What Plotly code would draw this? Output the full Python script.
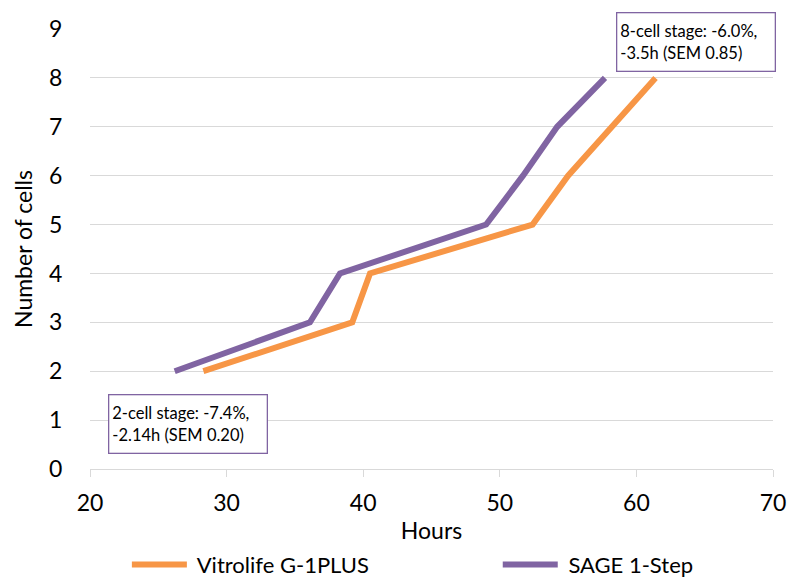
import plotly.graph_objects as go

cells = [2, 3, 4, 5, 6, 7, 8]
vitrolife_hours = [28.3, 39.2, 40.5, 52.4, 55.0, 58.2, 61.4]
sage_hours = [26.2, 36.1, 38.3, 49.0, 51.7, 54.2, 57.7]

ann1 = "2-cell stage: -7.4%,<br>-2.14h (SEM 0.20)"
ann2 = "8-cell stage: -6.0%,<br>-3.5h (SEM 0.85)"

font = "Lato, Open Sans, sans-serif"
pad = "\u00a0"

fig = go.Figure()
fig.add_trace(go.Scatter(x=vitrolife_hours, y=cells, mode="lines", name=pad + "Vitrolife G-1PLUS",
                         line=dict(color="#F79646", width=6), legend="legend"))
fig.add_trace(go.Scatter(x=sage_hours, y=cells, mode="lines", name=pad + "SAGE 1-Step",
                         line=dict(color="#8064A2", width=6), legend="legend2"))

for txt, x, y in [(ann1, 27.2, 0.93), (ann2, 64.35, 8.73)]:
    fig.add_annotation(x=x, y=y, xref="x", yref="y", text=txt, showarrow=False,
                       align="left", valign="middle", width=151, height=51,
                       bgcolor="white", bordercolor="#8064A2", borderwidth=1.3,
                       borderpad=3, font=dict(family=font, size=16.5, color="black"))

leg = dict(orientation="h", xanchor="left", y=-0.17, yanchor="top",
           font=dict(size=22), itemwidth=55, tracegroupgap=0, bgcolor="rgba(0,0,0,0)")

fig.update_layout(
    width=788, height=585,
    margin=dict(l=90, r=15, t=29, b=116, autoexpand=False),
    paper_bgcolor="white", plot_bgcolor="white",
    font=dict(family=font, size=23, color="black"),
    showlegend=True,
    legend=dict(leg, x=0.054),
    legend2=dict(leg, x=0.597),
    xaxis=dict(range=[20, 70], dtick=10, showgrid=False, showline=True, linecolor="#d9d9d9",
               linewidth=1.3, ticks="outside", ticklen=7, tickcolor="#d9d9d9",
               ticklabelstandoff=6, automargin=False,
               tickfont=dict(size=23), title=dict(text="Hours", font=dict(size=23), standoff=8),
               zeroline=False),
    yaxis=dict(range=[0, 9], dtick=1, showgrid=True, gridcolor="#d9d9d9", gridwidth=1.3,
               zeroline=False, showline=False, tickfont=dict(size=23), ticklen=22, ticks="outside",
               tickcolor="rgba(0,0,0,0)", automargin=False,
               title=dict(text="Number of cells", font=dict(size=23), standoff=10)),
)

fig.write_html("out.html")
